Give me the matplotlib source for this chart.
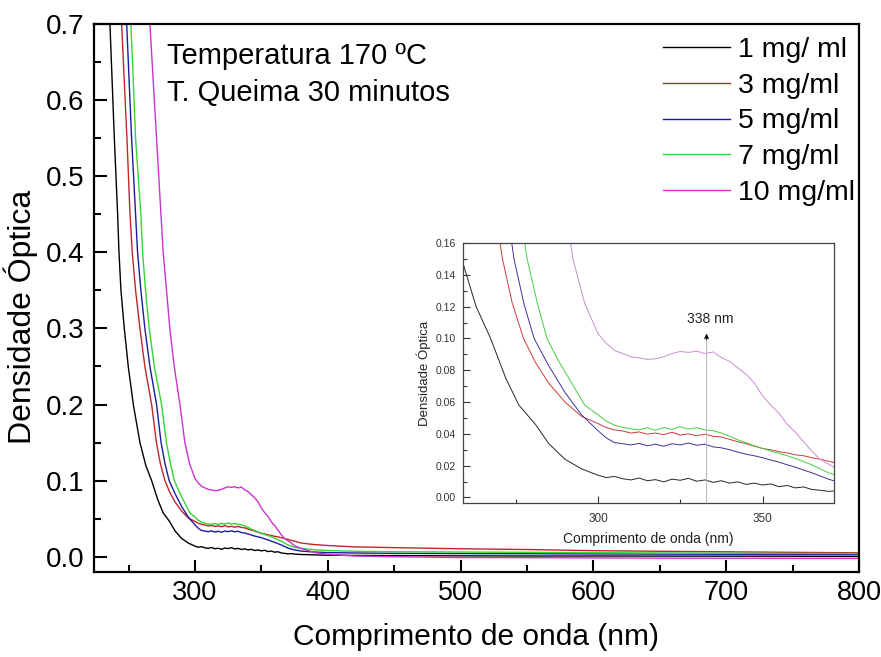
import matplotlib
matplotlib.use('Agg')
import matplotlib.pyplot as plt
import matplotlib.ticker as ticker

plt.rcParams['font.family'] = ['Liberation Sans', 'DejaVu Sans']

# ---- data ----
labels = ['1 mg/ ml', '3 mg/ml', '5 mg/ml', '7 mg/ml', '10 mg/ml']

# shared wavelength grids for the plateau and the tail
plateau_wl = [300, 302.5, 305, 307.5, 310, 312.5, 315, 317.5, 320, 322.5, 325,
              327.5, 330, 332.5, 335, 337.5, 340, 342.5, 345, 347.5, 350,
              352.5, 355, 357.5, 360, 362.5, 365, 367.5, 370, 372.5, 375]
tail_wl = [380, 390, 400, 420, 450, 500, 550, 600, 650, 700, 750, 800]

# 1 mg/ml
edge_wl_1 = [236, 239.3, 241.8, 242.8, 244.3, 246.8, 249.8, 253.6, 258.6, 263,
             267.4, 272, 276, 281, 285, 290, 295]
edge_od_1 = [0.70, 0.55, 0.45, 0.40, 0.35, 0.30, 0.25, 0.20, 0.15, 0.12,
             0.10, 0.075, 0.058, 0.046, 0.034, 0.024, 0.018]
plateau_od_1 = [0.0140, 0.0125, 0.0132, 0.0118, 0.0110, 0.0122, 0.0105, 0.0112,
                0.0098, 0.0115, 0.0108, 0.0120, 0.0102, 0.0110, 0.0095, 0.0105,
                0.0090, 0.0098, 0.0082, 0.0090, 0.0078, 0.0085, 0.0068, 0.0075,
                0.0060, 0.0066, 0.0050, 0.0045, 0.0038, 0.0042, 0.0035]
tail_od_1 = [0.003, 0.0025, 0.002, 0.0018, 0.0015, 0.0012, 0.001, 0.001,
             0.0009, 0.0008, 0.0007, 0.0006]

# 3 mg/ml
edge_wl_3 = [244.8, 248.8, 251.1, 252.8, 255.3, 258.6, 262.3, 267.4, 271, 274,
             277.4, 281, 285, 290, 295]
edge_od_3 = [0.70, 0.55, 0.45, 0.40, 0.35, 0.30, 0.25, 0.20, 0.15, 0.122,
             0.10, 0.085, 0.072, 0.060, 0.051]
plateau_od_3 = [0.0465, 0.0440, 0.0425, 0.0418, 0.0405, 0.0412, 0.0398, 0.0405,
                0.0395, 0.0410, 0.0392, 0.0400, 0.0388, 0.0398, 0.0385, 0.0380,
                0.0365, 0.0350, 0.0338, 0.0322, 0.0308, 0.0300, 0.0288, 0.0280,
                0.0268, 0.0262, 0.0250, 0.0240, 0.0228, 0.0215, 0.0205]
tail_od_3 = [0.018, 0.016, 0.0148, 0.013, 0.012, 0.0105, 0.0095, 0.008,
             0.0072, 0.0065, 0.0058, 0.0052]

# 5 mg/ml
edge_wl_5 = [248.6, 252.3, 255.3, 256.8, 259.3, 262.3, 266.1, 271.1, 274.5,
             277.5, 280.6, 285, 290, 295]
edge_od_5 = [0.70, 0.55, 0.45, 0.40, 0.35, 0.30, 0.25, 0.20, 0.15, 0.122,
             0.10, 0.083, 0.066, 0.052]
plateau_od_5 = [0.0420, 0.0375, 0.0345, 0.0338, 0.0330, 0.0340, 0.0325, 0.0335,
                0.0322, 0.0338, 0.0330, 0.0342, 0.0328, 0.0335, 0.0318, 0.0312,
                0.0300, 0.0285, 0.0272, 0.0262, 0.0250, 0.0235, 0.0222, 0.0205,
                0.0190, 0.0172, 0.0155, 0.0135, 0.0115, 0.0100, 0.0090]
tail_od_5 = [0.0075, 0.0062, 0.0055, 0.005, 0.0045, 0.0042, 0.004, 0.0037,
             0.0035, 0.0033, 0.0031, 0.003]

# 7 mg/ml
edge_wl_7 = [251.8, 255.3, 259.3, 260.6, 262.8, 265.6, 269.4, 274.9, 278.5,
             281.5, 284.5, 288, 292, 296]
edge_od_7 = [0.70, 0.55, 0.45, 0.40, 0.35, 0.30, 0.25, 0.20, 0.15, 0.123,
             0.10, 0.086, 0.072, 0.058]
plateau_od_7 = [0.0520, 0.0480, 0.0455, 0.0440, 0.0432, 0.0425, 0.0438, 0.0422,
                0.0440, 0.0428, 0.0445, 0.0430, 0.0438, 0.0425, 0.0420, 0.0405,
                0.0385, 0.0362, 0.0345, 0.0325, 0.0308, 0.0292, 0.0278, 0.0262,
                0.0245, 0.0225, 0.0205, 0.0180, 0.0155, 0.0140, 0.0125]
tail_od_7 = [0.011, 0.0092, 0.0082, 0.0072, 0.0066, 0.0062, 0.0058, 0.0054,
             0.005, 0.0047, 0.0044, 0.0042]

# 10 mg/ml
edge_wl_10 = [266.1, 271.1, 274.4, 276.1, 278.6, 281.1, 284.4, 288.7, 292.4, 296]
edge_od_10 = [0.70, 0.55, 0.45, 0.40, 0.35, 0.30, 0.25, 0.20, 0.15, 0.122]
plateau_od_10 = [0.1030, 0.0970, 0.0925, 0.0905, 0.0885, 0.0878, 0.0868, 0.0872,
                 0.0885, 0.0905, 0.0918, 0.0912, 0.0920, 0.0905, 0.0915, 0.0880,
                 0.0855, 0.0815, 0.0775, 0.0720, 0.0640, 0.0580, 0.0530, 0.0460,
                 0.0410, 0.0350, 0.0290, 0.0240, 0.0210, 0.0180, 0.0145]
tail_od_10 = [0.011, 0.0055, 0.0033, 0.001, 0.0, -0.001, -0.0012, -0.0015,
              -0.0018, -0.002, -0.002, -0.002]

peak_wl = 333        # where the inset arrow stands
peak_label = '338 nm'

wl_all = [edge_wl_1 + plateau_wl + tail_wl, edge_wl_3 + plateau_wl + tail_wl,
          edge_wl_5 + plateau_wl + tail_wl, edge_wl_7 + plateau_wl + tail_wl,
          edge_wl_10 + plateau_wl + tail_wl]
od_all = [edge_od_1 + plateau_od_1 + tail_od_1, edge_od_3 + plateau_od_3 + tail_od_3,
          edge_od_5 + plateau_od_5 + tail_od_5, edge_od_7 + plateau_od_7 + tail_od_7,
          edge_od_10 + plateau_od_10 + tail_od_10]

colors = ['#000000', '#c0262c', '#1c1c9c', '#33d633', '#cc33cc']
inset_colors = ['#262626', '#cf3c3c', '#36369a', '#45cf45', '#c98ccf']

fig = plt.figure(figsize=(8.81, 6.57), dpi=100)
ax = fig.add_axes([0.1067, 0.1294, 0.8683, 0.8341])

for wl, od, c, lab in zip(wl_all, od_all, colors, labels):
    ax.plot(wl, od, color=c, lw=1.0, label=lab)

ax.set_xlim(224, 800)
ax.set_ylim(-0.02, 0.7)
ax.xaxis.set_major_locator(ticker.MultipleLocator(100))
ax.xaxis.set_minor_locator(ticker.MultipleLocator(50))
ax.yaxis.set_major_locator(ticker.MultipleLocator(0.1))
ax.yaxis.set_minor_locator(ticker.MultipleLocator(0.05))
ax.yaxis.set_major_formatter(ticker.FormatStrFormatter('%.1f'))
ax.tick_params(which='both', direction='in', top=False, right=False, width=1.5)
ax.tick_params(which='major', length=9)
ax.tick_params(which='minor', length=5)
ax.tick_params(axis='y', labelsize=20, pad=7)
ax.tick_params(axis='x', labelsize=19.5, pad=6)
for s in ax.spines.values():
    s.set_linewidth(1.6)

ax.set_ylabel('Densidade Óptica', fontsize=23)
ax.yaxis.set_label_coords(-0.0732, 0.465)
ax.set_xlabel('Comprimento de onda (nm)', fontsize=21.5, labelpad=12)

ax.text(0.095, 0.967, 'Temperatura 170 ºC\nT. Queima 30 minutos',
        transform=ax.transAxes, fontsize=21, va='top', ha='left',
        linespacing=1.42)

ax.legend(loc='upper right', bbox_to_anchor=(0.995, 0.976), frameon=False,
          fontsize=20.5, handlelength=2.35, handletextpad=0.3,
          labelspacing=0.34, borderpad=0, borderaxespad=0)

# ---- inset ----
ins = fig.add_axes([0.5255, 0.2344, 0.4211, 0.3957])
for wl, od, c in zip(wl_all, od_all, inset_colors):
    ins.plot(wl, od, color=c, lw=0.7)
ins.set_xlim(259, 371.7)
ins.set_ylim(-0.0035, 0.16)
ins.xaxis.set_major_locator(ticker.MultipleLocator(50))
ins.xaxis.set_minor_locator(ticker.MultipleLocator(25))
ins.yaxis.set_major_locator(ticker.MultipleLocator(0.02))
ins.yaxis.set_minor_locator(ticker.MultipleLocator(0.01))
ins.yaxis.set_major_formatter(ticker.FormatStrFormatter('%.2f'))
ins.tick_params(which='both', direction='in', top=False, right=False,
                colors='#333333', width=0.8, labelcolor='#333333')
ins.tick_params(which='major', length=5)
ins.tick_params(which='minor', length=3)
ins.tick_params(axis='y', labelsize=7.5, pad=5)
ins.tick_params(axis='x', labelsize=8.5, pad=7)
for s in ins.spines.values():
    s.set_linewidth(0.9)
    s.set_color('#444444')
ins.set_ylabel('Densidade Óptica', fontsize=9.5, color='#222222', labelpad=3)
ins.set_xlabel('Comprimento de onda (nm)', fontsize=10, color='#222222',
               labelpad=5)

ins.annotate('', xy=(peak_wl, 0.103), xytext=(peak_wl, -0.0035),
             arrowprops=dict(arrowstyle='-|>', color='#bbbbbb', lw=0.8,
                             mutation_scale=7, shrinkA=0, shrinkB=0))
ins.annotate('', xy=(peak_wl, 0.103), xytext=(peak_wl, 0.099),
             arrowprops=dict(arrowstyle='-|>', color='#111111', lw=0.5,
                             mutation_scale=7, shrinkA=0, shrinkB=0))
ins.text(peak_wl + 1, 0.112, peak_label, fontsize=10, ha='center',
         va='center', color='#222222')

fig.savefig('out.png', dpi=100)
